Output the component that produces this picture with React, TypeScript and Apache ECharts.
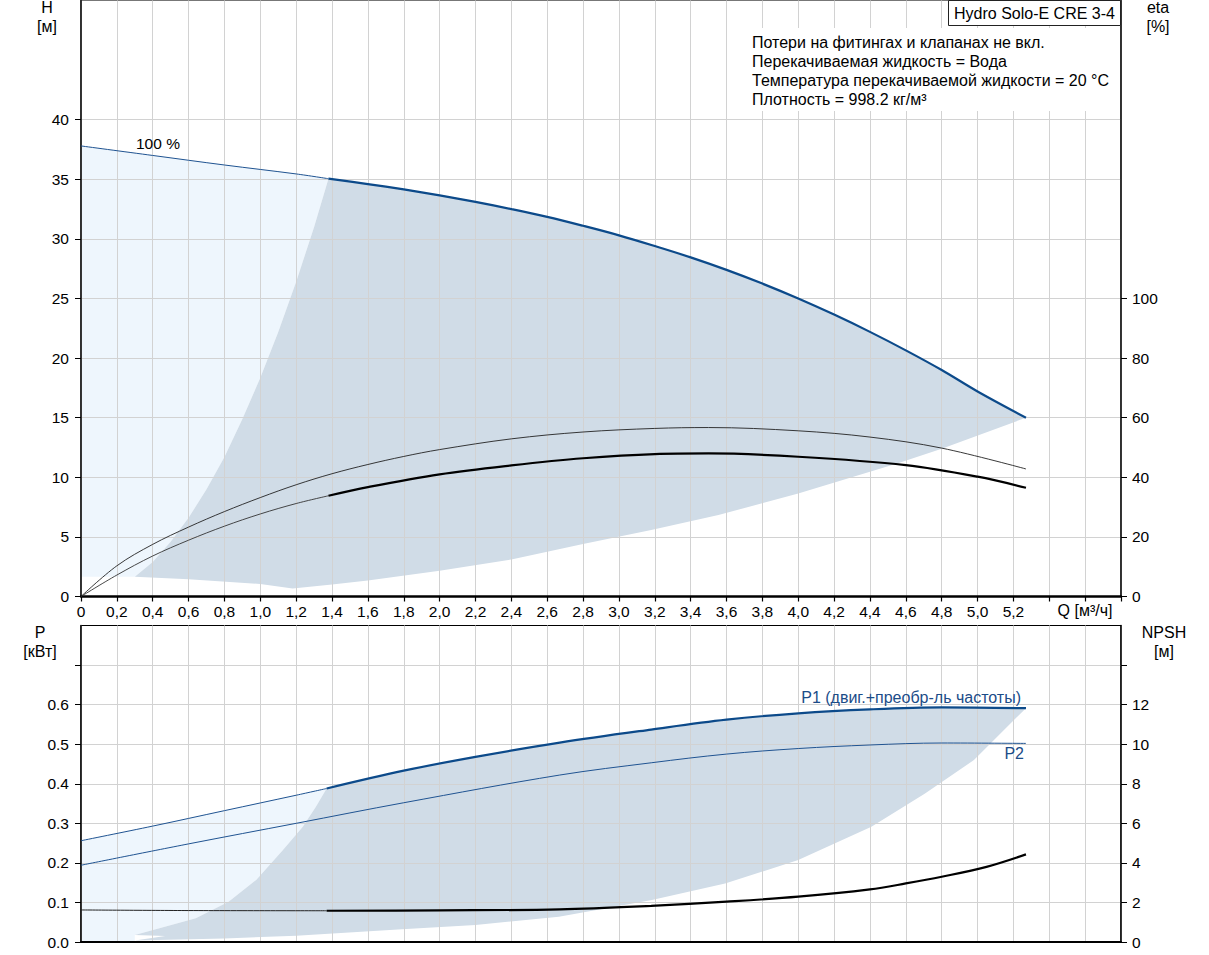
import React, { useEffect, useRef } from "react";
import * as echarts from "echarts";

// ---------- data ----------
// Head curve H [m] vs Q [m³/h]
const Q_H_LOW = [0, 0.4, 0.8, 1.2, 1.38];
const H_LOW = [37.8, 37.0, 36.2, 35.45, 35.05];
const Q_H = [1.38, 1.6, 1.8, 2.0, 2.2, 2.4, 2.6, 2.8, 3.0, 3.2, 3.4, 3.6, 3.8, 4.0, 4.2, 4.4, 4.6, 4.8, 5.0, 5.27];
const H_MAIN = [35.05, 34.6, 34.15, 33.65, 33.1, 32.5, 31.85, 31.1, 30.3, 29.4, 28.45, 27.4, 26.25, 25.0, 23.65, 22.2, 20.65, 19.0, 17.2, 15.0];

// Efficiency curves eta [%]
const Q_ETA_UP = [0, 0.2, 0.4, 0.6, 0.8, 1.0, 1.2, 1.4, 1.6, 1.8, 2.0, 2.4, 2.8, 3.2, 3.5, 4.0, 4.4, 4.8, 5.27];
const ETA_UP = [0, 10.3, 17.5, 23.3, 28.5, 33.2, 37.5, 41.2, 44.3, 47.0, 49.3, 52.9, 55.2, 56.4, 56.7, 55.6, 53.5, 49.8, 42.8];
const Q_ETA_LOW = [0, 0.2, 0.4, 0.6, 0.8, 1.0, 1.2, 1.38];
const ETA_LOW = [0, 7.2, 13.6, 18.9, 23.6, 27.7, 31.2, 33.8];
const Q_ETA = [1.38, 1.6, 2.0, 2.4, 2.8, 3.2, 3.5, 4.0, 4.6, 5.0, 5.27];
const ETA_MAIN = [33.8, 36.7, 41.0, 44.0, 46.4, 47.8, 48.0, 46.9, 44.1, 40.2, 36.5];

// Operating-range envelope (top chart)
const ENV_BOTTOM_Q = [4.8, 4.556, 4.0, 3.555, 3.18, 2.8, 2.4, 2.0, 1.6, 1.4, 1.18, 1.0, 0.6, 0.3];
const ENV_BOTTOM_H = [12.4, 11.17, 8.65, 6.83, 5.57, 4.4, 3.1, 2.17, 1.35, 1.0, 0.68, 1.05, 1.44, 1.66];
const ENV_EDGE_Q = [0.3, 0.4, 0.5, 0.6, 0.7, 0.8, 0.9, 1.0, 1.1, 1.2, 1.3];
const ENV_EDGE_H = [1.66, 2.9, 4.6, 6.6, 9.0, 11.7, 14.9, 18.35, 22.2, 26.4, 31.0];

// Power curves P [kW]
const Q_P1_LOW = [0, 0.4, 0.8, 1.2, 1.37];
const P1_LOW = [0.256, 0.293, 0.332, 0.371, 0.388];
const Q_P1 = [1.37, 1.8, 2.2, 2.67, 3.18, 3.6, 4.0, 4.4, 4.8, 5.27];
const P1_MAIN = [0.388, 0.433, 0.468, 0.504, 0.537, 0.562, 0.578, 0.588, 0.593, 0.591];
const Q_P2 = [0, 0.6, 1.2, 1.8, 2.67, 3.18, 3.6, 4.0, 4.4, 4.8, 5.27];
const P2 = [0.194, 0.248, 0.30, 0.352, 0.422, 0.453, 0.475, 0.489, 0.498, 0.503, 0.502];

// NPSH [m]
const Q_NPSH_LOW = [0, 0.6, 1.37];
const NPSH_LOW = [1.62, 1.59, 1.58];
const Q_NPSH = [1.37, 2.0, 2.67, 3.18, 3.6, 4.0, 4.4, 4.6, 4.8, 5.05, 5.27];
const NPSH_MAIN = [1.58, 1.6, 1.65, 1.83, 2.04, 2.29, 2.66, 2.96, 3.3, 3.8, 4.43];

// Operating-range envelope (bottom chart)
const PENV_RIGHT_Q = [4.98, 4.705, 4.408, 4.0, 3.592, 3.184, 2.665, 2.2, 1.79, 1.2, 0.8, 0.3, 0.47];
const PENV_RIGHT_P = [0.46, 0.375, 0.291, 0.207, 0.148, 0.106, 0.064, 0.043, 0.032, 0.016, 0.009, 0.004, 0.015];
const PENV_EDGE_Q = [0.3, 0.64, 0.823, 0.977, 1.125, 1.237, 1.31];
const PENV_EDGE_P = [0.018, 0.06, 0.102, 0.157, 0.232, 0.291, 0.342];

// Tick values
const H_TICKS = [0, 5, 10, 15, 20, 25, 30, 35, 40];
const ETA_TICKS = [0, 20, 40, 60, 80, 100];
const P_LABELS = [0, 0.1, 0.2, 0.3, 0.4, 0.5, 0.6];
const P_TICKS = [0, 0.1, 0.2, 0.3, 0.4, 0.5, 0.6, 0.7];
const NPSH_LABELS = [0, 2, 4, 6, 8, 10, 12];
const NPSH_TICKS = [0, 2, 4, 6, 8, 10, 12, 14];

const INFO_LINES = [
  "Потери на фитингах и клапанах не вкл.",
  "Перекачиваемая жидкость = Вода",
  "Температура перекачиваемой жидкости = 20 °C",
  "Плотность = 998.2 кг/м³",
];

// ---------- helpers ----------
const zip = (xs: number[], ys: number[]) => xs.map((x, i) => [x, ys[i]]);
const rev = <T,>(a: T[]) => a.slice().reverse();

const FONT = "'Liberation Sans', Arial, sans-serif";
const DARK_FILL = "#d0dce7";
const LIGHT_FILL = "#eef6fd";
const BLUE = "#0c4a8a";
const GRID_LINE = "#d2d2d2";

export default function App() {
  const ref = useRef<HTMLDivElement>(null);

  useEffect(() => {
    if (!ref.current) return;
    const chart = echarts.init(ref.current, undefined, { renderer: "svg" });

    const darkTop = [
      ...zip(Q_H, H_MAIN),
      ...zip(ENV_BOTTOM_Q, ENV_BOTTOM_H),
      ...zip(ENV_EDGE_Q, ENV_EDGE_H).slice(1),
    ];
    const lightTop = [
      [0, ENV_EDGE_H[0]],
      ...zip(Q_H_LOW, H_LOW),
      ...rev(zip(ENV_EDGE_Q, ENV_EDGE_H)),
    ];
    const darkBottom = [
      ...zip(Q_P1, P1_MAIN),
      ...zip(PENV_RIGHT_Q, PENV_RIGHT_P),
      ...zip(PENV_EDGE_Q, PENV_EDGE_P),
    ];
    const lightBottom = [
      [0, 0],
      ...zip(Q_P1_LOW, P1_LOW),
      ...rev(zip(PENV_EDGE_Q, PENV_EDGE_P)),
      [PENV_EDGE_Q[0], 0],
    ];

    const polygon = (pts: number[][], fill: string, xi: number, yi: number, z: number) => ({
      type: "custom",
      xAxisIndex: xi,
      yAxisIndex: yi,
      z,
      silent: true,
      data: pts,
      encode: { x: 0, y: 1 },
      renderItem: (params: any, api: any) => {
        if (params.dataIndex !== 0) return null;
        const points = pts.map((p) => api.coord(p));
        return { type: "polygon", shape: { points }, style: { fill, stroke: null } };
      },
    });

    const line = (pts: number[][], color: string, width: number, xi: number, yi: number) => ({
      type: "line",
      xAxisIndex: xi,
      yAxisIndex: yi,
      data: pts,
      showSymbol: false,
      symbol: "none",
      smooth: 0.35,
      silent: true,
      z: 5,
      lineStyle: { color, width },
    });

    const xLabel = (v: number) =>
      v > 5.25 ? "" : v === 0 ? "0" : v.toFixed(1).replace(".", ",");

    const axisText = { color: "#000", fontSize: 15.5, fontFamily: FONT };

    const text = (x: number, y: number, t: string, align = "center", color = "#000", size = 16) => ({
      type: "text",
      x,
      y,
      z: 100,
      silent: true,
      style: {
        text: t,
        fill: color,
        font: `${size}px ${FONT}`,
        textAlign: align,
        textVerticalAlign: "middle",
        verticalAlign: "middle",
      },
    });

    chart.setOption({
      animation: false,
      backgroundColor: "#fff",
      grid: [
        { left: 81, top: 0.5, width: 1040, height: 596, show: true, borderColor: "#777", borderWidth: 1, backgroundColor: "transparent" },
        { left: 81, top: 625.5, width: 1040, height: 316.5, show: true, borderColor: "#000", borderWidth: 1, backgroundColor: "transparent" },
      ],
      xAxis: [
        {
          type: "value", gridIndex: 0, min: 0, max: 5.8, interval: 0.2,
          axisLine: { show: true, onZero: false, lineStyle: { color: "#000", width: 2.5 } },
          axisTick: { show: true, length: 5, lineStyle: { color: "#000", width: 1.2 } },
          axisLabel: { ...axisText, margin: 7, formatter: xLabel },
          splitLine: { show: true, lineStyle: { color: GRID_LINE, width: 1 } },
        },
        {
          type: "value", gridIndex: 1, min: 0, max: 5.8, interval: 0.2,
          axisLine: { show: true, onZero: false, lineStyle: { color: "#000", width: 2 } },
          axisTick: { show: false },
          axisLabel: { show: false },
          splitLine: { show: true, lineStyle: { color: GRID_LINE, width: 1 } },
        },
      ],
      yAxis: [
        {
          type: "value", gridIndex: 0, position: "left", min: 0, max: 50, interval: 5,
          axisLine: { show: true, onZero: false, lineStyle: { color: "#000", width: 1.5 } },
          axisTick: { show: true, length: 6, customValues: H_TICKS, lineStyle: { color: "#000" } },
          axisLabel: { ...axisText, margin: 12, customValues: H_TICKS },
          splitLine: { show: true, lineStyle: { color: GRID_LINE, width: 1 } },
        },
        {
          type: "value", gridIndex: 0, position: "right", min: 0, max: 200, interval: 20,
          axisLine: { show: true, onZero: false, lineStyle: { color: "#000", width: 1.5 } },
          axisTick: { show: true, length: 6, customValues: ETA_TICKS, lineStyle: { color: "#000" } },
          axisLabel: { ...axisText, margin: 11, customValues: ETA_TICKS },
          splitLine: { show: false },
        },
        {
          type: "value", gridIndex: 1, position: "left", min: 0, max: 0.8, interval: 0.1,
          axisLine: { show: true, onZero: false, lineStyle: { color: "#000", width: 1.5 } },
          axisTick: { show: true, length: 6, customValues: P_TICKS, lineStyle: { color: "#000" } },
          axisLabel: { ...axisText, margin: 12, customValues: P_LABELS, formatter: (v: number) => v.toFixed(1) },
          splitLine: { show: true, lineStyle: { color: GRID_LINE, width: 1 } },
        },
        {
          type: "value", gridIndex: 1, position: "right", min: 0, max: 16, interval: 2,
          axisLine: { show: true, onZero: false, lineStyle: { color: "#000", width: 1.5 } },
          axisTick: { show: true, length: 6, customValues: NPSH_TICKS, lineStyle: { color: "#000" } },
          axisLabel: { ...axisText, margin: 11, customValues: NPSH_LABELS },
          splitLine: { show: false },
        },
      ],
      series: [
        polygon(lightTop, LIGHT_FILL, 0, 0, -2),
        polygon(darkTop, DARK_FILL, 0, 0, -1),
        polygon(lightBottom, LIGHT_FILL, 1, 2, -2),
        polygon(darkBottom, DARK_FILL, 1, 2, -1),

        line(zip(Q_H_LOW, H_LOW), "#1f5391", 1, 0, 0),
        line(zip(Q_H, H_MAIN), BLUE, 2.2, 0, 0),
        line(zip(Q_ETA_UP, ETA_UP), "#222", 0.9, 0, 1),
        line(zip(Q_ETA_LOW, ETA_LOW), "#333", 0.9, 0, 1),
        line(zip(Q_ETA, ETA_MAIN), "#000", 2.2, 0, 1),

        line(zip(Q_P1_LOW, P1_LOW), "#1f5391", 1, 1, 2),
        line(zip(Q_P1, P1_MAIN), BLUE, 2.2, 1, 2),
        line(zip(Q_P2, P2), "#1f5391", 1, 1, 2),
        line(zip(Q_NPSH_LOW, NPSH_LOW), "#222", 1, 1, 3),
        line(zip(Q_NPSH, NPSH_MAIN), "#000", 2.2, 1, 3),
      ],
      graphic: [
        text(47, 7, "H"),
        text(47, 26, "[м]"),
        text(1158, 7, "eta"),
        text(1158, 26, "[%]"),
        text(40, 632, "P"),
        text(40, 651, "[кВт]"),
        text(1164, 632, "NPSH"),
        text(1164, 651, "[м]"),
        text(1085, 610, "Q [м³/ч]"),
        text(136, 143, "100 %", "left", "#000", 15.5),
        text(1021, 697, "P1 (двиг.+преобр-ль частоты)", "right", "#1b4c88"),
        text(1024, 753, "P2", "right", "#1b4c88"),
        {
          type: "rect", z: 90, silent: true,
          shape: { x: 748, y: 28, width: 372, height: 83 },
          style: { fill: "#fff", stroke: null },
        },
        ...INFO_LINES.map((t, i) => text(752, 42 + i * 19, t, "left")),
        {
          type: "rect", z: 95, silent: true,
          shape: { x: 948.5, y: 0.5, width: 172, height: 25 },
          style: { fill: "#fff", stroke: "#222", lineWidth: 1 },
        },
        text(954, 13, "Hydro Solo-E CRE 3-4", "left"),
      ],
    });

    return () => chart.dispose();
  }, []);

  return (
    <div
      ref={ref}
      style={{ position: "absolute", left: 0, top: 0, width: 1209, height: 955 }}
    />
  );
}
